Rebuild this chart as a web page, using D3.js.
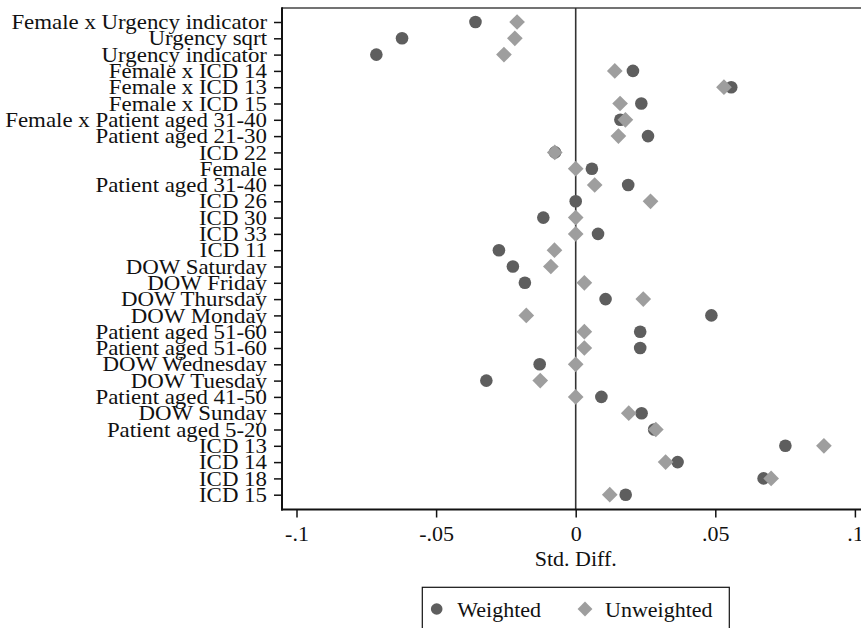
<!DOCTYPE html>
<html>
<head>
<meta charset="utf-8">
<script src="https://cdn.jsdelivr.net/npm/d3@7"></script>
<style>
  html, body { margin: 0; padding: 0; background: #fff; }
  svg { display: block; }
  text { font-family: "Liberation Serif", "Times New Roman", serif; fill: #111; }
</style>
</head>
<body>
<svg id="chart" width="861" height="628"></svg>
<script>
const categories = [
  "Female x Urgency indicator", "Urgency sqrt", "Urgency indicator",
  "Female x ICD 14", "Female x ICD 13", "Female x ICD 15",
  "Female x Patient aged 31-40", "Patient aged 21-30", "ICD 22", "Female",
  "Patient aged 31-40", "ICD 26", "ICD 30", "ICD 33", "ICD 11",
  "DOW Saturday", "DOW Friday", "DOW Thursday", "DOW Monday",
  "Patient aged 51-60", "Patient aged 51-60", "DOW Wednesday", "DOW Tuesday",
  "Patient aged 41-50", "DOW Sunday", "Patient aged 5-20",
  "ICD 13", "ICD 14", "ICD 18", "ICD 15"
];
const weighted = [
  -0.0359, -0.0622, -0.0714, 0.0205, 0.0557, 0.0235, 0.0160, 0.0259, -0.0074, 0.0058,
  0.0188, 0.0000, -0.0116, 0.0080, -0.0275, -0.0225, -0.0182, 0.0107, 0.0486,
  0.0231, 0.0231, -0.0129, -0.0320, 0.0092, 0.0236, 0.0281,
  0.0751, 0.0365, 0.0673, 0.0179
];
const unweighted = [
  -0.0210, -0.0218, -0.0257, 0.0140, 0.0531, 0.0159, 0.0178, 0.0153, -0.0075, 0.0000,
  0.0068, 0.0268, 0.0000, 0.0000, -0.0076, -0.0089, 0.0031, 0.0242, -0.0177,
  0.0031, 0.0031, 0.0000, -0.0127, 0.0000, 0.0190, 0.0287,
  0.0889, 0.0322, 0.0700, 0.0122
];
const xTicks = [-0.1, -0.05, 0, 0.05, 0.1];
const xTickLabels = ["-.1", "-.05", "0", ".05", ".1"];
const xTitle = "Std. Diff.";
const seriesNames = ["Weighted", "Unweighted"];

const svg = d3.select("#chart");
const FS = 22;
const plotL = 282, plotT = 8, plotB = 509.5, plotR = 900;
const darkCol = "#5e5e5e", lightCol = "#9e9e9e";

const x = d3.scaleLinear().domain([-0.1, 0.1]).range([296.5, 854.9]);
const y = d3.scalePoint().domain(d3.range(categories.length)).range([22, 494.7]);

// top frame line
svg.append("line").attr("x1", plotL).attr("x2", plotR).attr("y1", plotT).attr("y2", plotT)
  .attr("stroke", "#444").attr("stroke-width", 1.5);

// zero reference line
svg.append("line").attr("x1", x(0)).attr("x2", x(0)).attr("y1", plotT).attr("y2", plotB)
  .attr("stroke", "#333").attr("stroke-width", 1.6);

// x axis
const xAxis = d3.axisBottom(x).tickValues(xTicks)
  .tickFormat((d, i) => xTickLabels[i]).tickSizeInner(8).tickSizeOuter(0).tickPadding(6);
const gx = svg.append("g").attr("transform", `translate(0,${plotB})`).call(xAxis);
gx.select(".domain").remove();
gx.append("line").attr("x1", plotL - 1).attr("x2", plotR).attr("y1", 0).attr("y2", 0)
  .attr("stroke", "#111").attr("stroke-width", 2);
gx.selectAll(".tick line").attr("stroke", "#111").attr("stroke-width", 1.5);
gx.selectAll(".tick text").attr("font-size", FS).attr("fill", "#111")
  .attr("font-family", '"Liberation Serif", serif').attr("y", 0).attr("dy", 0)
  .attr("transform", "translate(0,31.5)");

svg.append("text").attr("x", x(0)).attr("y", 566).attr("text-anchor", "middle")
  .attr("font-size", FS).text(xTitle);

// y axis
const yAxis = d3.axisLeft(y).tickFormat(i => categories[i]).tickSizeInner(8).tickSizeOuter(0).tickPadding(7);
const gy = svg.append("g").attr("transform", `translate(${plotL},0)`).call(yAxis);
gy.select(".domain").remove();
gy.append("line").attr("x1", 0).attr("x2", 0).attr("y1", plotT - 0.75).attr("y2", plotB + 1)
  .attr("stroke", "#111").attr("stroke-width", 2);
gy.selectAll(".tick line").attr("stroke", "#111").attr("stroke-width", 1.5);
gy.selectAll(".tick text").attr("font-size", FS).attr("fill", "#111")
  .attr("font-family", '"Liberation Serif", serif').attr("dy", "0.30em")
  .each(function() {
    const len = this.getComputedTextLength();
    d3.select(this).attr("textLength", len * 1.04).attr("lengthAdjust", "spacingAndGlyphs");
  });

// markers
const diamond = d3.symbol().type(d3.symbolSquare).size(123)();
svg.append("g").selectAll("circle").data(weighted).join("circle")
  .attr("cx", d => x(d)).attr("cy", (d, i) => y(i)).attr("r", 6.3)
  .attr("fill", darkCol);
svg.append("g").selectAll("path").data(unweighted).join("path")
  .attr("d", diamond)
  .attr("transform", (d, i) => `translate(${x(d)},${y(i)}) rotate(45)`)
  .attr("fill", lightCol);

// legend
const lg = svg.append("g");
lg.append("rect").attr("x", 422.3).attr("y", 587.3).attr("width", 307).attr("height", 60)
  .attr("fill", "#fff").attr("stroke", "#111").attr("stroke-width", 1.2);
lg.append("circle").attr("cx", 436.7).attr("cy", 609).attr("r", 5.8).attr("fill", darkCol);
lg.append("text").attr("x", 457.3).attr("y", 617).attr("font-size", FS).text(seriesNames[0]);
lg.append("path").attr("d", d3.symbol().type(d3.symbolSquare).size(110)())
  .attr("transform", "translate(585,609) rotate(45)").attr("fill", lightCol);
lg.append("text").attr("x", 605).attr("y", 617).attr("font-size", FS).text(seriesNames[1]);
</script>
</body>
</html>
